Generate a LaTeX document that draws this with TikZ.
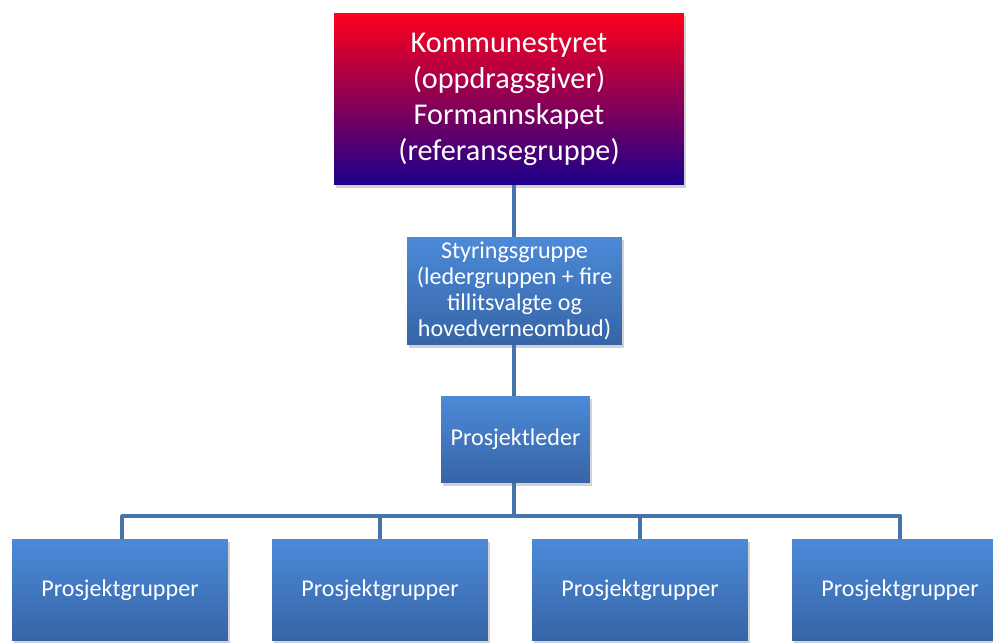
\documentclass[tikz,border=0pt]{standalone}
\usepackage{fontspec}
\setmainfont{Carlito}
\usepackage{tikz}
\usetikzlibrary{shadows}
\usetikzlibrary{positioning}
\usetikzlibrary{calc}

\definecolor{linkblue}{RGB}{68,116,168}
\definecolor{boxtop}{RGB}{76,138,216}
\definecolor{boxbot}{RGB}{54,100,166}
\definecolor{redtop}{RGB}{255,0,28}
\definecolor{redmid}{RGB}{168,0,138}
\definecolor{bluebot}{RGB}{28,0,140}

\begin{document}
\begin{tikzpicture}
  [x=0.02cm,y=-0.02cm,
   box/.style={rectangle,inner sep=2pt,align=center,text=white,
     top color=boxtop,bottom color=boxbot,
     font=\fontsize{13.7}{14.8}\selectfont,
     drop shadow={opacity=0.35,shadow xshift=1pt,shadow yshift=-1.5pt}},
   topbox/.style={box,top color=redtop,middle color=redmid,bottom color=bluebot,
     font=\fontsize{17.2}{20.5}\selectfont},
   group/.style={box,minimum width=4.32cm,minimum height=2.04cm},
   link/.style={draw=linkblue,line width=2.2pt,line join=round}]
  \useasboundingbox (0,0) rectangle (993,642);
  \clip (0,0) rectangle (993,642);
  \fill[white] (0,0) rectangle (993,642);

  \node[topbox,minimum width=7cm,minimum height=3.44cm] (1) at (509,99)
    {Kommunestyret\\(oppdragsgiver)\\Formannskapet\\(referansegruppe)};
  \node[box,minimum width=4.3cm,minimum height=2.16cm] (2) at (514.5,291)
    {Styringsgruppe\\(ledergruppen + fire\\tillitsvalgte og\\hovedverneombud)};
  \node[box,minimum width=2.98cm,minimum height=1.74cm] (3) at (515.5,439.5)
    {Prosjektleder};

  \node[group] (41) at (120,590) {Prosjektgrupper};
  \node[group] (42) at (380,590) {Prosjektgrupper};
  \node[group] (43) at (640,590) {Prosjektgrupper};
  \node[group] (44) at (900,590) {Prosjektgrupper};

  \coordinate (bar) at (514,516);

  \draw[link] (1.south -| 514,0) -- (2.north -| 514,0);
  \draw[link] (2.south -| 514,0) -- (3.north -| 514,0);
  \draw[link] (3.south -| 514,0) -- (bar);
  \foreach \i/\x in {41/122,42/380,43/640,44/900}
    \draw[link] (bar) -| (\i.north -| \x,0);
\end{tikzpicture}
\end{document}
